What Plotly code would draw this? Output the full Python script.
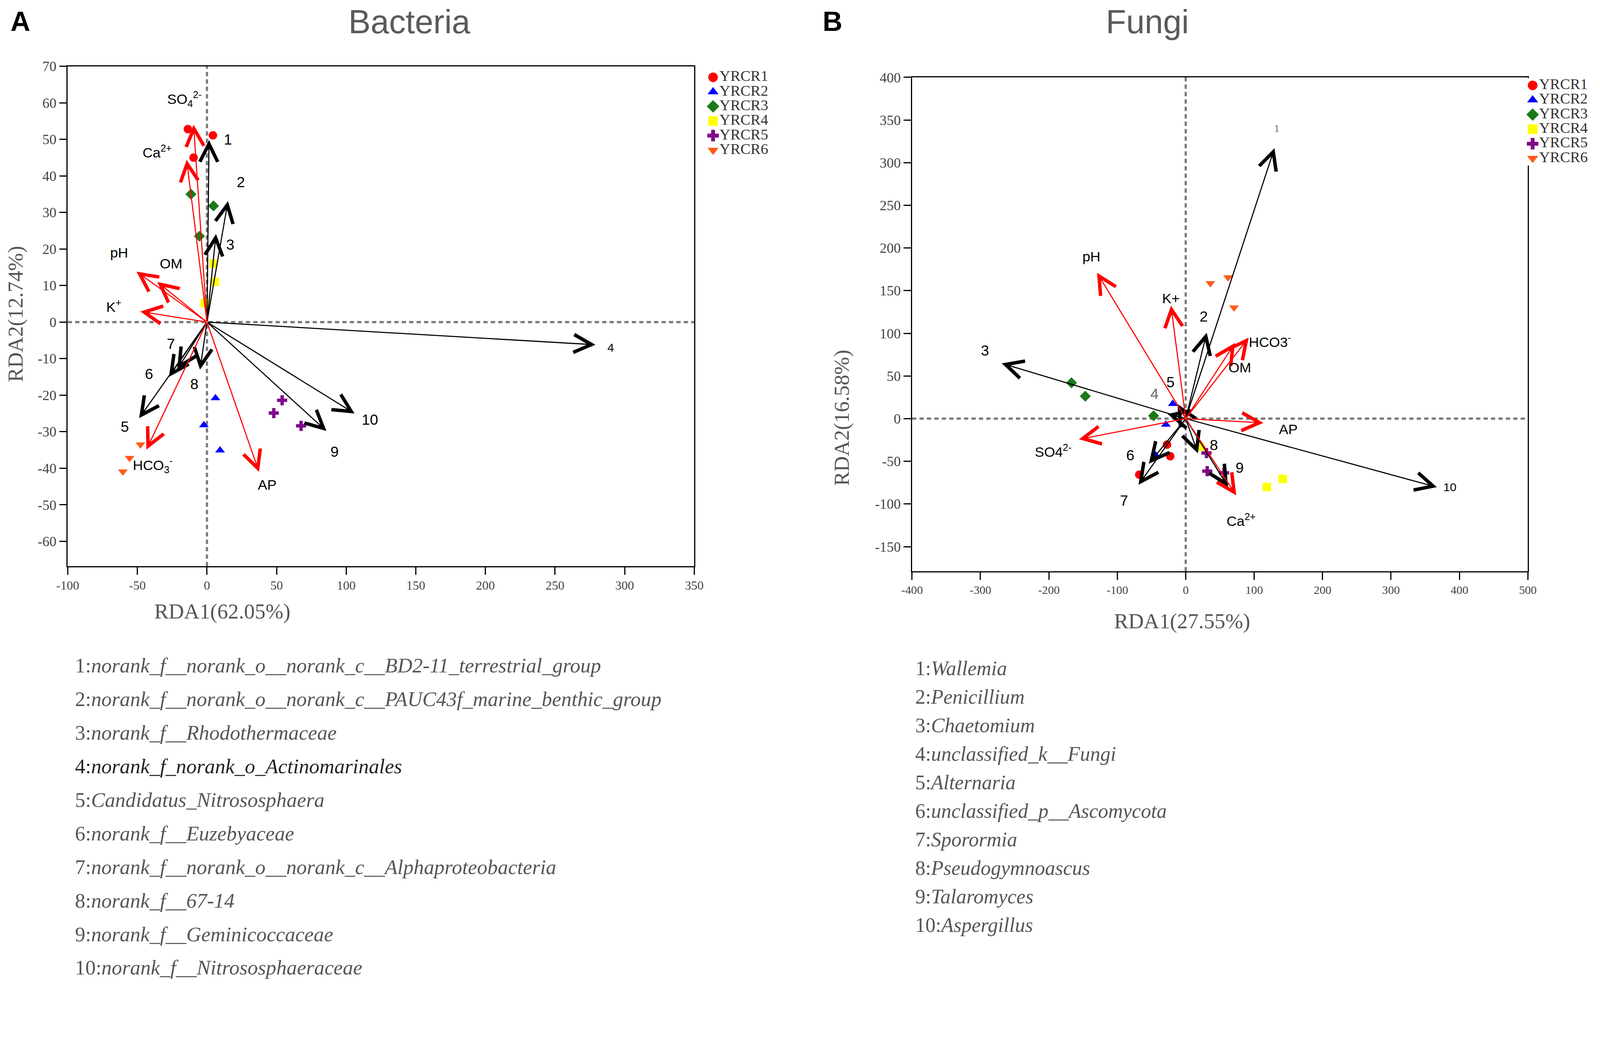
import plotly.graph_objects as go

"""
RDA biplots: bacteria (A) and fungi (B)
"""

groups = ["YRCR1", "YRCR2", "YRCR3", "YRCR4", "YRCR5", "YRCR6"]
group_symbols = ["circle", "triangle-up", "diamond", "square", "cross", "triangle-down"]
group_colors = ["#ff0000", "#0000ff", "#1a7a1a", "#ffff00", "#7f0a8a", "#ff5a1a"]

# ---- Bacteria samples (3 per group)
bac_x = [[-13.7, -9.6, 4.3], [6.1, -2.2, 9.4], [-11.5, -5.4, 4.7],
         [-1.6, 4.7, 5.6], [54.0, 48.0, 67.6], [-47.8, -55.6, -60.4]]
bac_y = [[52.8, 45.0, 51.1], [-20.8, -28.2, -35.1], [35.0, 23.5, 31.8],
         [5.2, 16.0, 11.0], [-21.4, -24.9, -28.4], [-33.5, -37.2, -40.9]]

# ---- Bacteria species arrows
bac_sp = ["1", "2", "3", "4", "5", "6", "7", "8", "9", "10"]
bac_sp_x = [1.5, 15.1, 6.5, 279.0, -48.7, -27.3, -21.4, -5.0, 85.8, 106.0]
bac_sp_y = [49.8, 33.1, 24.1, -6.2, -26.3, -15.0, -13.0, -13.0, -29.8, -25.0]
bac_sp_lx = [15.0, 24.4, 16.8, 287.0, -59.0, -41.6, -25.8, -9.1, 91.8, 117.0]
bac_sp_ly = [50.0, 38.3, 21.2, -7.0, -28.6, -14.2, -6.0, -17.0, -35.5, -26.7]

# ---- Bacteria environmental arrows
bac_env = ["SO<sub>4</sub><sup>2-</sup>", "Ca<sup>2+</sup>", "pH", "OM", "K<sup>+</sup>",
           "HCO<sub>3</sub><sup>-</sup>", "AP"]
bac_env_x = [-9.6, -14.6, -50.6, -35.7, -47.8, -43.5, 37.4]
bac_env_y = [54.0, 44.4, 13.8, 11.0, 2.9, -34.9, -41.0]
bac_env_lx = [-16.2, -35.7, -63.2, -25.8, -66.8, -39.0, 43.4]
bac_env_ly = [61.0, 46.7, 19.0, 16.0, 4.4, -39.1, -44.6]

# ---- Fungi samples
fun_x = [[-27.4, -22.7, -67.9], [-19.0, -29.0, -44.0], [-167.0, -146.8, -47.0],
         [20.8, 118.6, 141.6], [30.3, 31.4, 56.0], [36.0, 61.8, 70.5]]
fun_y = [[-30.4, -44.0, -65.7], [17.4, -6.9, -42.8], [42.0, 26.3, 3.4],
         [-32.9, -80.0, -70.6], [-40.3, -61.5, -63.5], [158.7, 165.6, 130.2]]

# ---- Fungi species arrows
fun_sp = ["1", "2", "3", "4", "5", "6", "7", "8", "9", "10"]
fun_sp_x = [129.7, 30.7, -268.9, -26.5, -12.0, -53.9, -69.0, 17.8, 62.0, 367.0]
fun_sp_y = [317.0, 100.7, 64.8, 5.5, 17.0, -52.8, -77.5, -40.7, -80.0, -80.3]
fun_sp_lx = [133.0, 26.5, -293.5, -45.5, -22.4, -81.0, -90.0, 41.0, 79.0, 386.0]
fun_sp_ly = [340.0, 119.5, 80.0, 29.0, 42.7, -42.8, -96.0, -31.0, -57.6, -80.3]

# ---- Fungi environmental arrows
fun_env = ["pH", "K+", "HCO3<sup>-</sup>", "OM", "AP", "SO4<sup>2-</sup>", "Ca<sup>2+</sup>"]
fun_env_x = [-129.7, -21.6, 92.0, 72.0, 113.5, -156.0, 73.8]
fun_env_y = [171.0, 132.4, 95.0, 88.7, -5.0, -24.2, -89.9]
fun_env_lx = [-138.0, -21.6, 123.0, 79.0, 150.0, -194.0, 81.0]
fun_env_ly = [190.0, 141.0, 91.0, 59.7, -12.6, -37.8, -119.0]

# ---- Tick values
bac_xticks = [-100, -50, 0, 50, 100, 150, 200, 250, 300, 350]
bac_yticks = [-60, -50, -40, -30, -20, -10, 0, 10, 20, 30, 40, 50, 60, 70]
fun_xticks = [-400, -300, -200, -100, 0, 100, 200, 300, 400, 500]
fun_yticks = [-150, -100, -50, 0, 50, 100, 150, 200, 250, 300, 350, 400]

# ---- Species legend texts
bac_names = ["norank_f__norank_o__norank_c__BD2-11_terrestrial_group",
             "norank_f__norank_o__norank_c__PAUC43f_marine_benthic_group",
             "norank_f__Rhodothermaceae",
             "norank_f_norank_o_Actinomarinales",
             "Candidatus_Nitrososphaera",
             "norank_f__Euzebyaceae",
             "norank_f__norank_o__norank_c__Alphaproteobacteria",
             "norank_f__67-14",
             "norank_f__Geminicoccaceae",
             "norank_f__Nitrososphaeraceae"]
fun_names = ["Wallemia", "Penicillium", "Chaetomium", "unclassified_k__Fungi", "Alternaria",
             "unclassified_p__Ascomycota", "Sporormia", "Pseudogymnoascus", "Talaromyces",
             "Aspergillus"]

# layout is measured in reference pixels (RW x RH) and drawn at scale S
# so the whole page fits in the browser view
RW, RH = 4317, 2654
S = 0.945
SERIF = "Liberation Serif"
SANS = "Liberation Sans"


def fs(v):
    return round(v * S, 1)


fig = go.Figure()

"""
Sample points
"""
for i, g in enumerate(groups):
    fig.add_trace(go.Scatter(x=bac_x[i], y=bac_y[i], mode="markers", name=g, showlegend=False,
                             xaxis="x", yaxis="y",
                             marker=dict(symbol=group_symbols[i], color=group_colors[i], size=fs(23), line=dict(width=0))))
for i, g in enumerate(groups):
    fig.add_trace(go.Scatter(x=fun_x[i], y=fun_y[i], mode="markers", name=g, showlegend=False,
                             xaxis="x2", yaxis="y2",
                             marker=dict(symbol=group_symbols[i], color=group_colors[i], size=fs(23), line=dict(width=0))))

"""
Group keys (compact legend, one row per group)
"""
rows = list(range(len(groups)))
for xa, ya in [("x3", "y3"), ("x4", "y4")]:
    fig.add_trace(go.Scatter(x=[0] * len(groups), y=rows, mode="markers+text", text=groups,
                             textposition="middle right", showlegend=False, cliponaxis=False,
                             xaxis=xa, yaxis=ya, hoverinfo="skip",
                             textfont=dict(family=SERIF, size=fs(41), color="#333333"),
                             marker=dict(symbol=group_symbols, color=group_colors, size=fs(26), line=dict(width=0))))


def arrow(xr, yr, x, y, color):
    return dict(xref=xr, yref=yr, axref=xr, ayref=yr, x=x, y=y, ax=0, ay=0, text="",
                showarrow=True, arrowhead=5, arrowsize=3.2, arrowwidth=fs(3), arrowcolor=color,
                standoff=0, startstandoff=0)


def label(xr, yr, x, y, text, size=38, color="black", family=SANS, xanchor="center"):
    return dict(xref=xr, yref=yr, x=x, y=y, text=text, showarrow=False, xanchor=xanchor,
                yanchor="middle", font=dict(family=family, size=fs(size), color=color))


def ptext(px, py, text, size, color, family, bold=False, angle=0, xanchor="center"):
    # text placed by reference pixels
    if bold:
        text = "<b>" + text + "</b>"
    return dict(xref="paper", yref="paper", x=px / RW, y=1 - py / RH, text=text, showarrow=False,
                xanchor=xanchor, yanchor="middle", textangle=angle,
                font=dict(family=family, size=fs(size), color=color))


annotations = []

# bacteria arrows + labels
for i, s in enumerate(bac_sp):
    annotations.append(arrow("x", "y", bac_sp_x[i], bac_sp_y[i], "black"))
    if s == "4":
        annotations.append(label("x", "y", bac_sp_lx[i], bac_sp_ly[i], s, size=32, xanchor="left"))
    else:
        annotations.append(label("x", "y", bac_sp_lx[i], bac_sp_ly[i], s, size=40))
for i, e in enumerate(bac_env):
    annotations.append(arrow("x", "y", bac_env_x[i], bac_env_y[i], "#ff0000"))
    annotations.append(label("x", "y", bac_env_lx[i], bac_env_ly[i], e, size=38))

# fungi arrows + labels
for i, s in enumerate(fun_sp):
    annotations.append(arrow("x2", "y2", fun_sp_x[i], fun_sp_y[i], "black"))
    if s == "1":
        annotations.append(label("x2", "y2", fun_sp_lx[i], fun_sp_ly[i], s, size=28, color="#666666", family=SERIF))
    elif s == "4":
        annotations.append(label("x2", "y2", fun_sp_lx[i], fun_sp_ly[i], s, size=40, color="#666666"))
    elif s == "10":
        annotations.append(label("x2", "y2", fun_sp_lx[i], fun_sp_ly[i], s, size=32))
    else:
        annotations.append(label("x2", "y2", fun_sp_lx[i], fun_sp_ly[i], s, size=40))
for i, e in enumerate(fun_env):
    annotations.append(arrow("x2", "y2", fun_env_x[i], fun_env_y[i], "#ff0000"))
    annotations.append(label("x2", "y2", fun_env_lx[i], fun_env_ly[i], e, size=38))

# panel letters, titles, axis titles
annotations += [
    ptext(47, 50, "A", 74, "black", SANS, bold=True),
    ptext(2246, 50, "B", 74, "black", SANS, bold=True),
    ptext(1101, 50, "Bacteria", 90, "#5a5a5a", SANS),
    ptext(3100, 50, "Fungi", 90, "#5a5a5a", SANS),
    ptext(594, 1647, "RDA1(62.05%)", 58, "#555555", SERIF),
    ptext(34, 842, "RDA2(12.74%)", 58, "#555555", SERIF, angle=-90),
    ptext(3194, 1674, "RDA1(27.55%)", 58, "#555555", SERIF),
    ptext(2271, 1123, "RDA2(16.58%)", 58, "#555555", SERIF, angle=-90),
]

# species lists under the plots
for i, n in enumerate(bac_names):
    col = "#222222" if i == 3 else "#555555"
    annotations.append(ptext(193, 1794 + i * 90.9, "%d:<i>%s</i>" % (i + 1, n), 56, col, SERIF, xanchor="left"))
for i, n in enumerate(fun_names):
    annotations.append(ptext(2469, 1802 + i * 77.2, "%d:<i>%s</i>" % (i + 1, n), 55, "#555555", SERIF, xanchor="left"))

"""
Dashed zero lines
"""
dash_line = dict(color="#7a7a7a", width=fs(6), dash="11px,8px")
shapes = [
    dict(type="line", xref="x domain", yref="y", x0=0, x1=1, y0=0, y1=0, line=dash_line, layer="below"),
    dict(type="line", xref="x", yref="y domain", x0=0, x1=0, y0=0, y1=1, line=dash_line, layer="below"),
    dict(type="line", xref="x2 domain", yref="y2", x0=0, x1=1, y0=0, y1=0, line=dash_line, layer="below"),
    dict(type="line", xref="x2", yref="y2 domain", x0=0, x1=0, y0=0, y1=1, line=dash_line, layer="below"),
]


def axis(dom, rng, ticks, size, anchor):
    return dict(domain=dom, range=rng, tickvals=ticks, ticktext=[str(t) for t in ticks],
                ticks="outside", ticklen=fs(20), tickwidth=fs(3), tickcolor="black",
                showline=True, linewidth=fs(3), linecolor="black", mirror=True,
                showgrid=False, zeroline=False, anchor=anchor, automargin=False,
                tickfont=dict(family=SERIF, size=fs(size), color="#444444"))


def key_axes(center_x, right_x, top_y, step):
    # hidden axes for the group keys: x=0 at the marker centre, one row per step
    unit = 18.0
    left = center_x - unit
    xa = dict(domain=[left / RW, right_x / RW], range=[-1, (right_x - left) / unit - 1],
              visible=False, fixedrange=True)
    ya = dict(domain=[1 - (top_y + len(groups) * step) / RH, 1 - top_y / RH],
              range=[len(groups) - 0.5, -0.5], visible=False, fixedrange=True)
    return xa, ya


x3, y3 = key_axes(1923, 2120, 181, 39.5)
x4, y4 = key_axes(4143, 4317, 203, 39.5)
x3["anchor"], y3["anchor"] = "y3", "x3"
x4["anchor"], y4["anchor"] = "y4", "x4"

fig.update_layout(
    width=round(RW * S),
    height=round(RH * S),
    autosize=False,
    showlegend=False,
    margin=dict(l=0, r=0, t=0, b=0, autoexpand=False),
    paper_bgcolor="white",
    plot_bgcolor="white",
    xaxis=axis([175 / RW, 1872 / RW], [-100, 350], bac_xticks, 34, "y"),
    yaxis=axis([1 - 1525 / RH, 1 - 171 / RH], [-66.8, 70], bac_yticks, 38, "x"),
    xaxis2=axis([2462 / RW, 4130 / RW], [-400, 500], fun_xticks, 32, "y2"),
    yaxis2=axis([1 - 1539 / RH, 1 - 201 / RH], [-179, 400], fun_yticks, 38, "x2"),
    xaxis3=x3, yaxis3=y3,
    xaxis4=x4, yaxis4=y4,
    annotations=annotations,
    shapes=shapes,
)

fig.write_html("out.html")
